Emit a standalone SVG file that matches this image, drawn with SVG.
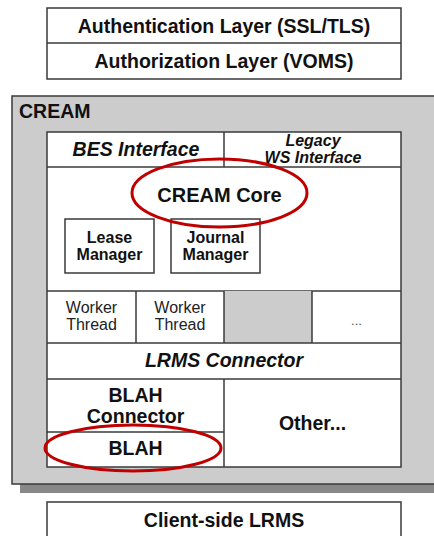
<svg xmlns="http://www.w3.org/2000/svg" width="434" height="536" viewBox="0 0 434 536">
<style>
.box{fill:#fff;stroke:#3a3a3a;stroke-width:1.5}
.ln{stroke:#3a3a3a;stroke-width:1.5;fill:none}
.t{font-family:"Liberation Sans",Arial,sans-serif;font-weight:bold;fill:#111;text-anchor:middle;font-size:19.5px}
.s{font-size:16px}
.i{font-style:italic}
.n{font-family:"Liberation Sans",Arial,sans-serif;fill:#222;text-anchor:middle;font-size:16px}
.ring{fill:none;stroke:#c00000;stroke-width:3}
</style>
<rect width="434" height="536" fill="#fff"/>
<g id="security">
<rect class="box" x="47" y="8" width="354" height="71"/>
<line class="ln" x1="47" y1="43" x2="401" y2="43"/>
<text class="t" x="224" y="32.5">Authentication Layer (SSL/TLS)</text>
<text class="t" x="224" y="68">Authorization Layer (VOMS)</text>
</g>
<g id="cream">
<rect x="20" y="100" width="420" height="393" fill="#888"/>
<rect x="12" y="96" width="428" height="388" fill="#cccccc" stroke="#3a3a3a" stroke-width="1.5"/>
<text class="t" x="19" y="118" style="text-anchor:start">CREAM</text>
<rect class="box" x="47" y="132" width="354" height="335"/>
</g>
<g id="bes">
<line class="ln" x1="47" y1="167" x2="401" y2="167"/>
<line class="ln" x1="224" y1="132" x2="224" y2="167"/>
<text class="t i" x="136" y="156">BES Interface</text>
</g>
<g id="legacy">
<text class="t i s" x="313" y="146">Legacy</text>
<text class="t i s" x="313" y="163">WS Interface</text>
</g>
<g id="core">
<text class="t" x="219.5" y="202" style="font-size:20px">CREAM Core</text>
</g>
<g id="lease">
<rect class="box" x="65" y="219" width="89" height="54"/>
<text class="t s" x="109.5" y="243">Lease</text>
<text class="t s" x="109.5" y="260">Manager</text>
</g>
<g id="journal">
<rect class="box" x="171" y="219" width="89" height="54"/>
<text class="t s" x="215.5" y="243">Journal</text>
<text class="t s" x="215.5" y="260">Manager</text>
</g>
<g id="workers">
<line class="ln" x1="47" y1="291" x2="401" y2="291"/>
<rect x="224" y="291" width="88" height="52" fill="#cccccc"/>
<line class="ln" x1="136" y1="291" x2="136" y2="343"/>
<line class="ln" x1="224" y1="291" x2="224" y2="343"/>
<line class="ln" x1="312" y1="291" x2="312" y2="343"/>
<text class="n" x="91.5" y="313">Worker</text>
<text class="n" x="91.5" y="330">Thread</text>
<text class="n" x="180" y="313">Worker</text>
<text class="n" x="180" y="330">Thread</text>
<text class="n" x="356.5" y="325" style="font-size:13px;fill:#555">...</text>
</g>
<g id="lrms">
<line class="ln" x1="47" y1="343" x2="401" y2="343"/>
<line class="ln" x1="47" y1="379" x2="401" y2="379"/>
<text class="t i" x="224" y="367">LRMS Connector</text>
</g>
<g id="blahconn">
<line class="ln" x1="224" y1="379" x2="224" y2="467"/>
<text class="t" x="135.5" y="402">BLAH</text>
<text class="t" x="135.5" y="423">Connector</text>
</g>
<g id="blah">
<line class="ln" x1="47" y1="432" x2="224" y2="432"/>
<text class="t" x="135.5" y="455">BLAH</text>
</g>
<g id="other">
<text class="t" x="312.5" y="430">Other...</text>
</g>
<g id="client">
<rect class="box" x="47" y="502" width="354" height="40"/>
<text class="t" x="224" y="527">Client-side LRMS</text>
</g>
<g id="connectors">
<ellipse class="ring" cx="219.5" cy="193" rx="87.5" ry="34"/>
<ellipse class="ring" cx="133" cy="448" rx="88" ry="23"/>
</g>
</svg>
